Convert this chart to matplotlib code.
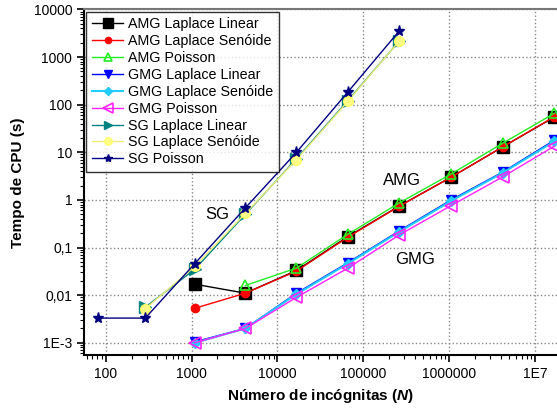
import matplotlib
matplotlib.use('Agg')
import matplotlib.pyplot as plt
from matplotlib.ticker import FixedLocator, LogLocator, NullFormatter

plt.rcParams['font.family'] = ['Liberation Sans', 'DejaVu Sans']
plt.rcParams['mathtext.fontset'] = 'custom'
plt.rcParams['mathtext.bf'] = 'Liberation Sans:bold:italic'

# numero de incognitas
n_amg = [1089, 4225, 16641, 66049, 263169, 1050625, 4198401, 16785409]
n_amg_p = [4225, 16641, 66049, 263169, 1050625, 4198401, 16785409]
n_sg = [289, 1089, 4225, 16641, 66049, 263169]
n_sg_p = [81, 289, 1089, 4225, 16641, 66049, 263169]

# tempos de CPU (s)
amg_lap_lin = [0.017, 0.011, 0.033, 0.17, 0.75, 3.0, 13, 55]
amg_lap_sen = [0.0053, 0.011, 0.032, 0.165, 0.74, 3.0, 13, 56]
amg_poisson = [0.016, 0.037, 0.19, 0.87, 3.5, 15.5, 66]
gmg_lap_lin = [0.00105, 0.002, 0.011, 0.048, 0.225, 1.0, 3.85, 18]
gmg_lap_sen = [0.001, 0.002, 0.0105, 0.046, 0.215, 0.95, 3.7, 17]
gmg_poisson = [0.001, 0.002, 0.009, 0.037, 0.185, 0.76, 3.05, 13.5]
sg_lap_lin = [0.0056, 0.035, 0.5, 7.3, 122, 2200]
sg_lap_sen = [0.0052, 0.04, 0.52, 7.0, 118, 2200]
sg_poisson = [0.0033, 0.0033, 0.046, 0.68, 10, 185, 3570]

x_ticks = [100, 1000, 10000, 100000, 1000000, 1e7]
x_labels = ['100', '1000', '10000', '100000', '1000000', '1E7']
y_ticks = [1e-3, 1e-2, 1e-1, 1, 10, 100, 1000, 10000]
y_labels = ['1E-3', '0,01', '0,1', '1', '10', '100', '1000', '10000']

fig = plt.figure(figsize=(5.57, 4.12), dpi=100)
ax = fig.add_axes([0.151, 0.138, 0.849, 0.839])

ax.plot(n_amg, amg_lap_lin, '-s', color='black', ms=9, lw=1, label='AMG Laplace Linear')
ax.plot(n_amg, amg_lap_sen, '-o', color='red', ms=6, lw=1, label='AMG Laplace Senóide')
ax.plot(n_amg_p, amg_poisson, '-^', color='#22ee22', mfc='none', mew=1.2, ms=7, lw=1, label='AMG Poisson')
ax.plot(n_amg, gmg_lap_lin, '-v', color='#0000ff', ms=7, lw=1, label='GMG Laplace Linear')
ax.plot(n_amg, gmg_lap_sen, '-D', color='#22ccff', ms=5, lw=1.5, label='GMG Laplace Senóide')
ax.plot(n_amg, gmg_poisson, '-<', color='#ff22ff', mfc='none', mew=1.2, ms=9, lw=1, label='GMG Poisson')
ax.plot(n_sg, sg_lap_lin, '->', color='#008080', ms=8, lw=1, label='SG Laplace Linear')
ax.plot(n_sg, sg_lap_sen, '-o', color='#eeee77', mfc='#ffff88', mec='#ffff66', ms=7, lw=1, label='SG Laplace Senóide')
ax.plot(n_sg_p, sg_poisson, '-*', color='#000080', ms=8, lw=1, label='SG Poisson')

ax.set_xscale('log')
ax.set_yscale('log')
ax.set_xlim(56, 1.8e7)
ax.set_ylim(5.5e-4, 10000)

ax.xaxis.set_major_locator(FixedLocator(x_ticks))
ax.set_xticklabels(x_labels)
ax.yaxis.set_major_locator(FixedLocator(y_ticks))
ax.set_yticklabels(y_labels)
ax.xaxis.set_minor_locator(LogLocator(base=10, subs=range(2, 10), numticks=20))
ax.yaxis.set_minor_locator(LogLocator(base=10, subs=range(2, 10), numticks=20))
ax.xaxis.set_minor_formatter(NullFormatter())
ax.yaxis.set_minor_formatter(NullFormatter())
ax.tick_params(which='major', direction='out', length=5, width=1.2, labelsize=10)
ax.tick_params(which='minor', direction='out', length=3, width=0.8)

ax.grid(True, which='major', linestyle=':', color='#888888', lw=1)
ax.spines['right'].set_visible(False)
ax.spines['left'].set_linewidth(1.5)
ax.spines['bottom'].set_linewidth(1.5)
ax.spines['top'].set_color('#777777')
ax.spines['top'].set_linewidth(1.5)

ax.set_xlabel(r'Número de incógnitas ($\mathbf{N}$)', fontsize=11, fontweight='bold')
ax.set_ylabel('Tempo de CPU (s)', fontsize=11, fontweight='bold', labelpad=6)

ax.text(1000 / 10 ** ((191.5 - 217) / 85.8), 10 ** (-(214 - 199.3) / 47.4), 'SG', fontsize=12, ha='center', va='center')
ax.text(1e6 / 10 ** ((449 - 402) / 85.8), 10 ** ((199.3 - 180) / 47.4), 'AMG', fontsize=12, ha='center', va='center')
ax.text(1e6 / 10 ** ((449 - 415) / 85.8), 10 ** ((199.3 - 259) / 47.4), 'GMG', fontsize=12, ha='center', va='center')

leg = ax.legend(loc='upper left', fontsize=10.3, frameon=True, fancybox=False,
                edgecolor='black', borderaxespad=0.15, handlelength=2.2,
                labelspacing=0.2, borderpad=0.4, handletextpad=0.3, markerscale=0.75)
leg.get_frame().set_linewidth(1.0)

fig.savefig('out.png', dpi=100)
